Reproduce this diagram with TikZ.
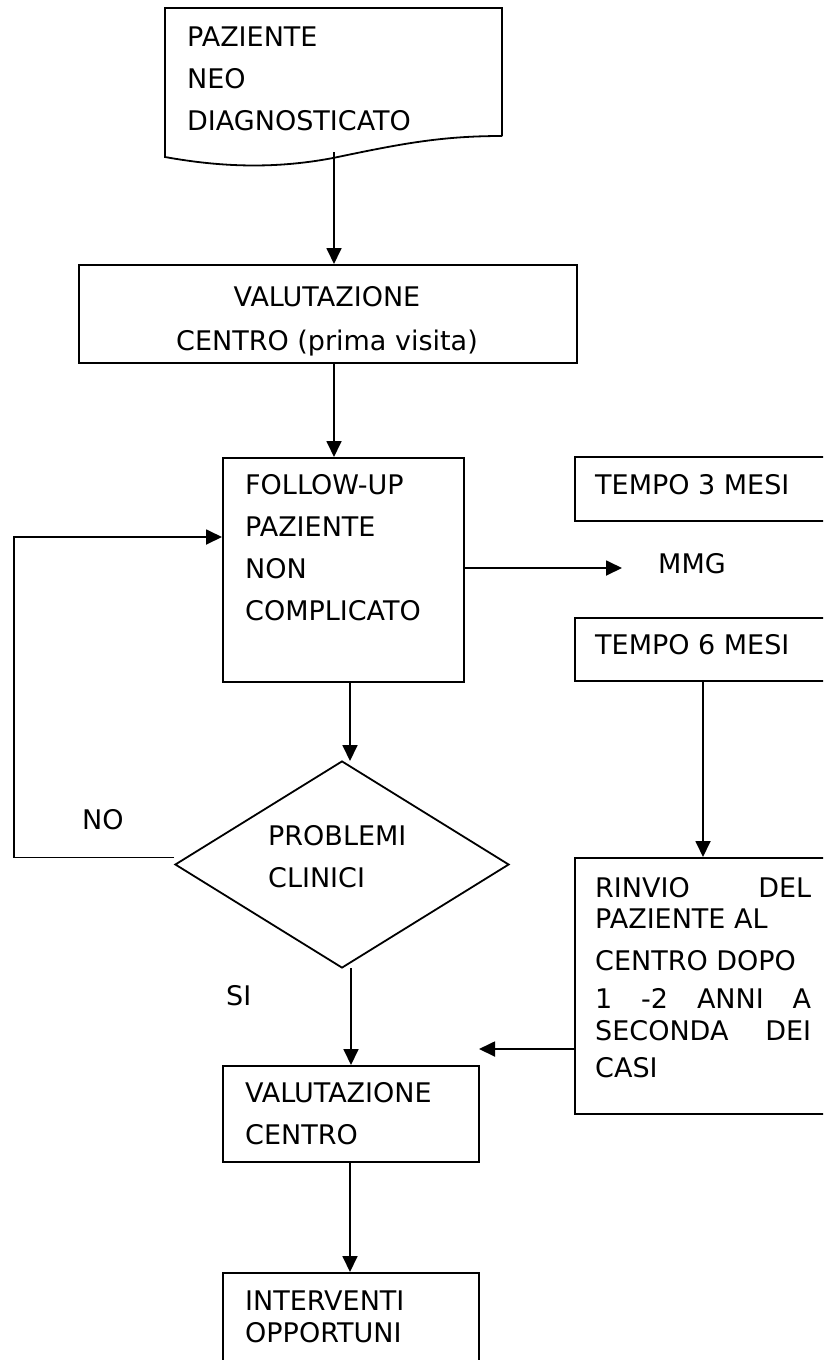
\documentclass[tikz,border=0pt]{standalone}
\usepackage{fontspec}
\setmainfont{DejaVu Sans}
\usetikzlibrary{arrows.meta,shapes.geometric}
\tikzset{
  ln/.style={line width=1.8pt},
  box/.style={draw, ln, rectangle, inner sep=0pt, anchor=north west},
  txt/.style={inner sep=0pt, anchor=base west, align=left, font=\fontsize{27}{42}\selectfont},
  arr/.style={ln, -{Triangle[length=16pt,width=15pt]}},
}
\begin{document}
\begin{tikzpicture}[x=1pt,y=-1pt]
\useasboundingbox (0,0) rectangle (823,1360);
\clip (0,0) rectangle (823,1360);
% document shape
\draw[ln, line join=miter] (502,136) -- (502,8) -- (165,8) -- (165,157)
  .. controls (215,166) and (270,170) .. (333,158)
  .. controls (400,144) and (440,136) .. (502,136);
\coordinate (docbot) at (334,152);
\node[txt] (doctxt) at (187,130) {PAZIENTE\\NEO\\DIAGNOSTICATO};
% boxes
\node[box, minimum width=498pt, minimum height=98pt] (val1) at (78,264) {};
\node[inner sep=0pt, anchor=base, align=center, font=\fontsize{27}{42}\selectfont] (val1txt) at (327,350) {VALUTAZIONE\\[2pt]CENTRO (prima visita)};
\node[box, minimum width=241pt, minimum height=224pt] (fu) at (222,457) {};
\node[txt] (futxt) at (245,620) {FOLLOW-UP\\PAZIENTE\\NON\\COMPLICATO};
\node[draw, ln, diamond, inner sep=0pt, minimum width=334pt, minimum height=207pt] (dia) at (342,864.5) {};
\node[txt] (diatxt) at (268,887) {PROBLEMI\\CLINICI};
\node[txt] (no) at (82,829) {NO};
\node[txt] (si) at (226,1005) {SI};
\node[box, minimum width=256pt, minimum height=96pt] (val2) at (222,1065) {};
\node[txt] (val2txt) at (245,1144) {VALUTAZIONE\\CENTRO};
\node[box, minimum width=256pt, minimum height=100pt] (int) at (222,1272) {};
\node[txt] (inttxt) at (245,1342) {INTERVENTI\\[-10pt]OPPORTUNI};
\node[box, minimum width=260pt, minimum height=64pt] (t3) at (574,456) {};
\node[txt] (t3txt) at (595,494) {TEMPO 3 MESI};
\node[txt] (mmg) at (658,573) {MMG};
\node[box, minimum width=260pt, minimum height=63pt] (t6) at (574,617) {};
\node[txt] (t6txt) at (595,654) {TEMPO 6 MESI};
\node[box, minimum width=260pt, minimum height=256pt] (rin) at (574,857) {};
\node[txt] (rintxt) at (595,1077) {\hbox to 216pt{RINVIO\hfill DEL}\\[-11pt]PAZIENTE AL\\CENTRO DOPO\\[-4pt]\hbox to 216pt{1\hfill-2\hfill ANNI\hfill A}\\[-10pt]\hbox to 216pt{SECONDA\hfill DEI}\\[-5pt]CASI};
% connectors
\draw[arr] (docbot) -- (334,264);
\draw[arr] (334,362) -- (334,457);
\draw[arr] (350,681) -- (350,761);
\draw[arr] (351,968) -- (351,1065);
\draw[arr] (350,1161) -- (350,1272);
\draw[arr] (463,568) -- (622,568);
\draw[arr] (703,680) -- (703,857);
\draw[arr] (574,1049) -- (479,1049);
\draw[arr] (dia.west) ++(0,-7) -- (14,857.5) -- (14,537) -- (222,537);
\end{tikzpicture}
\end{document}
